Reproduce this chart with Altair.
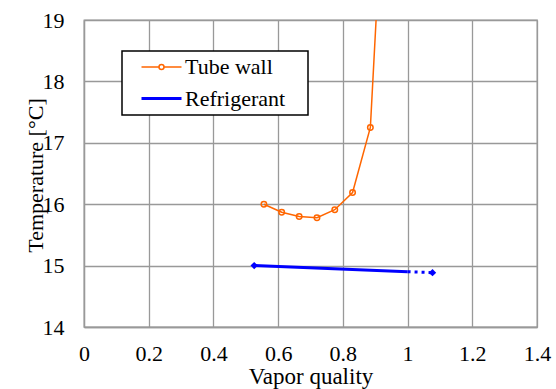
import altair as alt
import pandas as pd

# ---- data ----
x_label = "Vapor quality"
y_label = "Temperature [°C]"
series_names = ["Tube wall", "Refrigerant"]
series_colors = ["#ff6600", "#0000ff"]
series_widths = [1.5, 3]
legend_symbols = [
    "M-2,0H-0.25M0.25,0H2M-0.25,0A0.25,0.25 0 1,1 0.25,0A0.25,0.25 0 1,1 -0.25,0M13.8,0",
    "M-2,0H2",
]

tube_x = [0.556, 0.611, 0.665, 0.720, 0.775, 0.830, 0.885, 0.940]
tube_t = [16.00, 15.87, 15.80, 15.78, 15.91, 16.19, 17.25, 22.70]

refr_x = [0.526, 1.000]
refr_t = [15.00, 14.90]
refr_ext_x = [1.000, 1.077]
refr_ext_t = [14.90, 14.885]
refr_pts_x = [0.526, 1.077]
refr_pts_t = [15.00, 14.885]

x_ticks = [0, 0.2, 0.4, 0.6, 0.8, 1.0, 1.2, 1.4]
y_ticks = [14, 15, 16, 17, 18, 19]

FONT = "Liberation Serif"
GRID = "#999999"

lines_df = pd.DataFrame({
    "x": tube_x + refr_x,
    "t": tube_t + refr_t,
    "series": [series_names[0]] * len(tube_x) + [series_names[1]] * len(refr_x),
})
tube_df = pd.DataFrame({"x": tube_x, "t": tube_t})
ext_df = pd.DataFrame({"x": refr_ext_x, "t": refr_ext_t})
pts_df = pd.DataFrame({"x": refr_pts_x, "t": refr_pts_t})

xs = alt.Scale(domain=[0, 1.4], nice=False, zero=False)
ys = alt.Scale(domain=[14, 19], nice=False, zero=False)

X = alt.X("x:Q", scale=xs, axis=alt.Axis(
    values=x_ticks, format="~g", title=x_label, labelFlush=False,
    labelBaseline="alphabetic", labelPadding=33,
    titleBaseline="alphabetic", titleY=56, titleFontSize=23,
))
Y = alt.Y("t:Q", scale=ys, axis=alt.Axis(
    values=y_ticks, format="d", title=y_label, labelFlush=False,
    labelPadding=20, titleX=-37, titleY=155, titleAngle=-90,
    titleBaseline="bottom", titleAlign="center",
))

LEG = dict(title=None)
color = alt.Color("series:N", scale=alt.Scale(domain=series_names, range=series_colors),
                  legend=alt.Legend(**LEG))
width_enc = alt.StrokeWidth("series:N", scale=alt.Scale(domain=series_names, range=series_widths),
                            legend=alt.Legend(**LEG))
shape_enc = alt.Shape("series:N", scale=alt.Scale(domain=series_names, range=legend_symbols),
                      legend=alt.Legend(**LEG))

main_lines = alt.Chart(lines_df).mark_line(clip=True).encode(
    x=X, y=Y, color=color, strokeWidth=width_enc
)

legend_carrier = alt.Chart(lines_df).transform_filter("datum.x < -1").mark_point(
    filled=False, opacity=1
).encode(x="x:Q", y="t:Q", color=color, strokeWidth=width_enc, shape=shape_enc)

tube_pts = alt.Chart(tube_df).mark_point(
    shape="circle", filled=False, size=30, strokeWidth=1.5,
    color=series_colors[0], opacity=1, clip=True
).encode(x="x:Q", y="t:Q")

ext_line = alt.Chart(ext_df).mark_line(
    strokeDash=[3, 4], strokeWidth=3, color=series_colors[1]
).encode(x="x:Q", y="t:Q")

refr_pts = alt.Chart(pts_df).mark_point(
    shape="diamond", filled=True, size=55, color=series_colors[1], opacity=1
).encode(x="x:Q", y="t:Q")

chart = alt.layer(main_lines, ext_line, tube_pts, refr_pts, legend_carrier).properties(
    width=453, height=307,
    padding={"left": 84, "top": 20, "right": 19, "bottom": 62},
    autosize=alt.AutoSizeParams(type="none"),
).configure_view(
    stroke=GRID, strokeWidth=1.3
).configure_axis(
    grid=True, gridColor=GRID, gridWidth=1.3, gridOpacity=1,
    domainColor=GRID, domainWidth=1.3,
    ticks=False, tickSize=0,
    labelFont=FONT, labelFontSize=22, labelColor="black",
    titleFont=FONT, titleFontSize=22, titleFontWeight="normal", titleColor="black",
).configure_legend(
    orient="none", legendX=38, legendY=31,
    strokeColor="black", strokeWidth=1.5, fillColor="white",
    padding=5, rowPadding=9,
    labelFont=FONT, labelFontSize=22, labelColor="black",
    symbolSize=400, symbolOffset=23, labelOffset=12,
    symbolOpacity=1,
)

chart.save("out.html", embed_options={"renderer": "svg", "actions": False})
